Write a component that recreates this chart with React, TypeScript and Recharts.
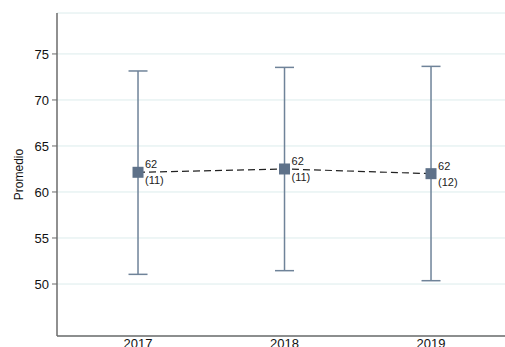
import React from "react";
import { ComposedChart, Line, XAxis, YAxis, CartesianGrid, ErrorBar, LabelList } from "recharts";

const years = [2017, 2018, 2019];
const means = [62.14, 62.5, 61.99];
const lows = [51.05, 51.45, 50.36];
const highs = [73.15, 73.54, 73.65];
const counts = [11, 11, 12];
const meanLabels = ["62", "62", "62"];
const yTicks = [50, 55, 60, 65, 70, 75];
const xTicks = [2017, 2018, 2019];

const data = years.map((y, i) => ({
  year: y,
  mean: means[i],
  err: [means[i] - lows[i], highs[i] - means[i]],
  label: meanLabels[i],
  n: counts[i],
}));

const SquareDot = (props: any) => {
  const { cx, cy } = props;
  if (cx == null || cy == null) return null;
  return <rect x={cx - 5.5} y={cy - 5.5} width={11} height={11} fill="#5e7189" />;
};

const MeanLabel = (props: any) => {
  const { x, y, index } = props;
  const d = data[index];
  return (
    <g>
      <text x={x + 7} y={y - 4} fontSize={11} fill="#222" fontFamily="Liberation Sans, Arial">{d.label}</text>
      <text x={x + 7} y={y + 12} fontSize={11} fill="#222" fontFamily="Liberation Sans, Arial">({d.n})</text>
    </g>
  );
};

export default function App() {
  return (
    <div style={{ position: "absolute", left: 0, top: 0, width: 505, height: 347, background: "#fff" }}>
      <ComposedChart width={505} height={347} data={data} margin={{ top: 13, right: 0, bottom: 0, left: 0 }}>
        <CartesianGrid vertical={false} stroke="#dcecec" strokeWidth={1} />
        <XAxis
          dataKey="year"
          type="number"
          domain={[2016.447, 2019.505]}
          ticks={xTicks}
          allowDataOverflow
          axisLine={{ stroke: "#6b6b6b", strokeWidth: 1.5 }}
          tickLine={false}
          tickSize={3}
          tickMargin={0}
          tick={{ fontSize: 13, fill: "#111", fontFamily: "Liberation Sans, Arial" }}
          height={11}
        />
        <YAxis
          type="number"
          domain={[44.35, 79.45]}
          ticks={yTicks}
          allowDataOverflow
          width={57}
          axisLine={{ stroke: "#6b6b6b", strokeWidth: 1.5 }}
          tickLine={{ stroke: "#6b6b6b" }}
          tickSize={5}
          tickMargin={3}
          tick={{ fontSize: 13, fill: "#111", fontFamily: "Liberation Sans, Arial" }}
          label={{ value: "Promedio", angle: -90, position: "insideLeft", offset: 19, style: { fontSize: 12, fill: "#111", fontFamily: "Liberation Sans, Arial", textAnchor: "middle" } }}
        />
        <Line
          dataKey="mean"
          stroke="#222"
          strokeWidth={1.2}
          strokeDasharray="7 4"
          dot={<SquareDot />}
          activeDot={false}
          isAnimationActive={false}
        >
          <ErrorBar dataKey="err" direction="y" width={9.5} stroke="#6f8399" strokeWidth={1.5} />
          <LabelList dataKey="mean" content={<MeanLabel />} />
        </Line>
      </ComposedChart>
    </div>
  );
}
